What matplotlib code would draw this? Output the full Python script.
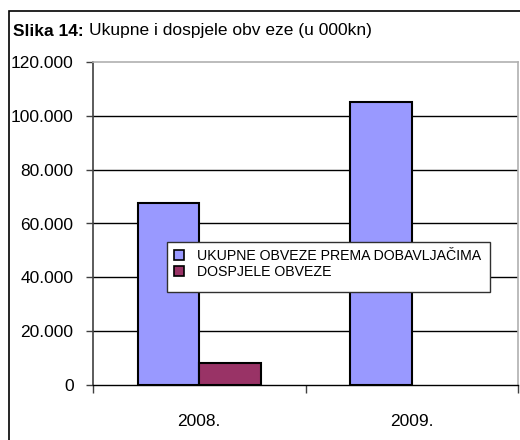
import matplotlib
matplotlib.use("Agg")
import matplotlib.pyplot as plt
from matplotlib.patches import Rectangle
from matplotlib.ticker import FuncFormatter, FixedLocator

plt.rcParams['font.family'] = ['Liberation Sans', 'DejaVu Sans']

categories = ["2008.", "2009."]
ukupne = [67700, 105200]
dospjele = [8300, 0]
series_labels = ["UKUPNE OBVEZE PREMA DOBAVLJAČIMA", "DOSPJELE OBVEZE"]
yticks = [0, 20000, 40000, 60000, 80000, 100000, 120000]

W, H = 520, 440
fig = plt.figure(figsize=(W / 100, H / 100), dpi=100)
fig.patch.set_facecolor("white")

# outer chart frame (extends beyond right/bottom edges)
fig.add_artist(Rectangle((9 / W, -0.1), 1.2, 1 - 11 / H + 0.1, transform=fig.transFigure,
                         fill=False, edgecolor="black", linewidth=1.2))

t1 = fig.text(13 / W, 1 - 31 / H, "Slika 14:", fontsize=12.5, fontweight="bold", va="center", ha="left")
fig.canvas.draw()
bb = t1.get_window_extent()
fig.text((bb.x1 + 5) / W, 1 - 31 / H, "Ukupne i dospjele obv eze (u 000kn)", fontsize=12.5,
         va="center", ha="left")

ax = fig.add_axes([93 / W, 1 - 385 / H, (518 - 93) / W, (385 - 62) / H])
ax.set_xlim(-0.5, 1.5)
ax.set_ylim(0, 120000)

x = list(range(len(categories)))
bw = 0.29
ax.bar([i - bw / 2 for i in x], ukupne, width=bw, color="#9999FF", edgecolor="black",
       linewidth=[1.5 if v > 0 else 0 for v in ukupne], label=series_labels[0], zorder=3)
ax.bar([i + bw / 2 for i in x], dospjele, width=bw, color="#993366", edgecolor="black",
       linewidth=[1.5 if v > 0 else 0 for v in dospjele], label=series_labels[1], zorder=3)

ax.set_yticks(yticks)
ax.yaxis.set_major_formatter(FuncFormatter(lambda v, p: f"{int(v):,}".replace(",", ".")))
for yv in yticks[1:-1]:
    ax.axhline(yv, color="black", linewidth=1.0, zorder=1)

ax.xaxis.set_major_locator(FixedLocator([-0.5, 0.5, 1.5]))
ax.xaxis.set_major_formatter(FuncFormatter(lambda v, p: ""))
ax.set_xticks(x, categories, minor=True)
ax.tick_params(axis="x", which="major", length=6, width=1, color="#404040", direction="out")
ax.tick_params(axis="x", which="minor", length=0, pad=21, labelsize=12.5)
ax.tick_params(axis="y", length=5, width=1, color="#404040", direction="out", pad=9, labelsize=12.5)

for s in ["top", "right"]:
    ax.spines[s].set_color("#B0B0B0")
    ax.spines[s].set_linewidth(1.2)
ax.spines["left"].set_color("#404040")
ax.spines["left"].set_linewidth(1.2)
ax.spines["bottom"].set_color("black")
ax.spines["bottom"].set_linewidth(1.0)

# legend frame
frame = Rectangle((167 / W, 1 - 292 / H), (490 - 167) / W, 50 / H, transform=fig.transFigure,
                  facecolor="white", edgecolor="#303030", linewidth=1.0, zorder=4)
ax.add_patch(frame)
frame.set_clip_on(False)

leg = ax.legend(loc="upper left", bbox_to_anchor=(170 / W, 1 - 245 / H), bbox_transform=fig.transFigure,
                borderaxespad=0, frameon=False, fontsize=10.2,
                handlelength=0.7, handleheight=0.7, handletextpad=0.9, labelspacing=0.1,
                borderpad=0.3)
for h in leg.legend_handles:
    h.set_linewidth(1.2)
leg.set_zorder(5)

fig.savefig("out.png", dpi=100, facecolor="white")
